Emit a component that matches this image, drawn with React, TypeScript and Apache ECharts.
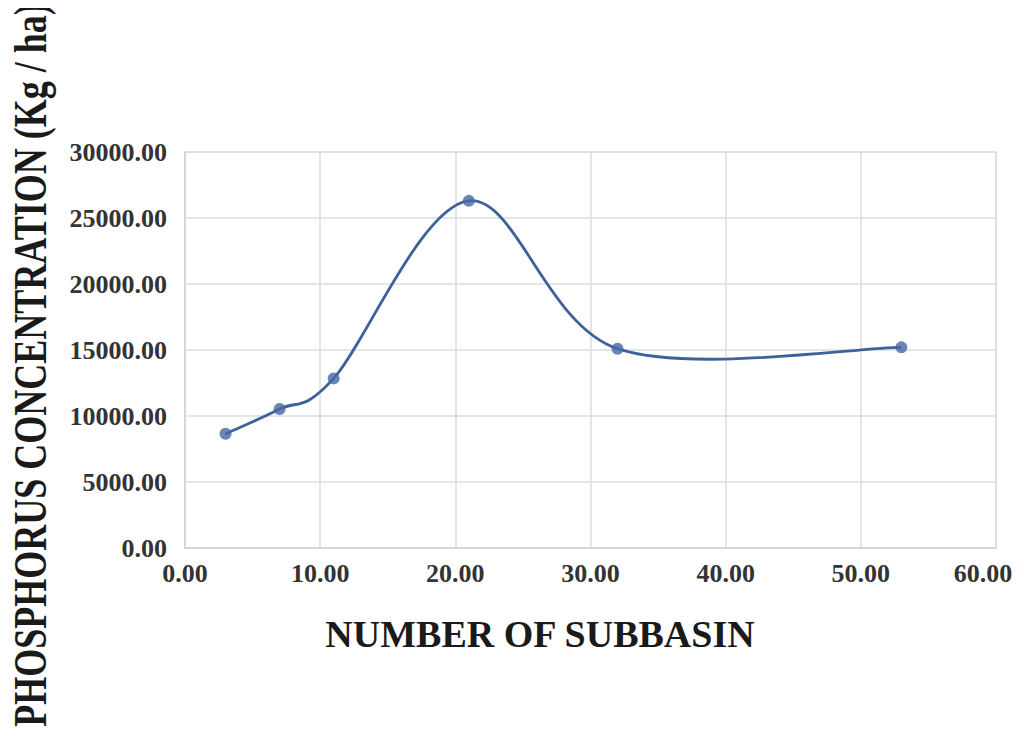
import React, { useEffect, useRef } from "react";
import * as echarts from "echarts";

const subbasins = [3, 7, 11, 21, 32, 53];
const phosphorus = [8650, 10530, 12850, 26300, 15100, 15200];
const xTicks = [0, 10, 20, 30, 40, 50, 60];
const yTicks = [0, 5000, 10000, 15000, 20000, 25000, 30000];
const xTitle = "NUMBER OF SUBBASIN";
const yTitle = "PHOSPHORUS CONCENTRATION (Kg / ha)";

const FONT = "'Liberation Serif', 'Times New Roman', serif";
const LINE = "#3d619b";

export default function App() {
  const ref = useRef<HTMLDivElement>(null);
  useEffect(() => {
    if (!ref.current) return;
    const chart = echarts.init(ref.current, undefined, { renderer: "svg" });
    const data = subbasins.map((x, i) => [x, phosphorus[i]]);
    const n = data.length;
    const xMax = xTicks[xTicks.length - 1];
    chart.setOption({
      animation: false,
      backgroundColor: "#ffffff",
      grid: { left: 185, right: 28, top: 152, bottom: 188, containLabel: false },
      xAxis: {
        type: "value",
        min: xTicks[0],
        max: xMax,
        interval: 10,
        axisLine: { show: true, lineStyle: { color: "#d0d0d0", width: 1.5 } },
        axisTick: { show: false },
        splitLine: { show: true, lineStyle: { color: "#dcdcdc", width: 1.5 } },
        axisLabel: {
          margin: 12,
          fontFamily: FONT,
          fontWeight: "bold",
          fontSize: 26,
          color: "#333333",
          formatter: (v: number) =>
            v === xMax ? `{last|${v.toFixed(2)}}` : v.toFixed(2),
          rich: {
            last: {
              fontFamily: FONT,
              fontWeight: "bold",
              fontSize: 26,
              color: "#333333",
              padding: [0, 26, 0, 0],
            },
          },
        },
      },
      yAxis: {
        type: "value",
        min: yTicks[0],
        max: yTicks[yTicks.length - 1],
        interval: 5000,
        axisLine: { show: true, lineStyle: { color: "#d0d0d0", width: 1.5 } },
        axisTick: { show: false },
        splitLine: { show: true, lineStyle: { color: "#dcdcdc", width: 1.5 } },
        axisLabel: {
          margin: 18,
          fontFamily: FONT,
          fontWeight: "bold",
          fontSize: 26,
          color: "#333333",
          formatter: (v: number) => v.toFixed(2),
        },
      },
      graphic: [
        {
          type: "line",
          shape: { x1: 185, y1: 152, x2: 996, y2: 152 },
          style: { stroke: "#dcdcdc", lineWidth: 1.5 },
          silent: true,
        },
        {
          type: "line",
          shape: { x1: 996, y1: 152, x2: 996, y2: 548 },
          style: { stroke: "#dcdcdc", lineWidth: 1.5 },
          silent: true,
        },
        {
          type: "text",
          x: 540,
          y: 634,
          style: {
            text: xTitle,
            font: `bold 38px ${FONT}`,
            fill: "#1a1a1a",
            textAlign: "center",
            textVerticalAlign: "middle",
          },
        },
        {
          type: "text",
          x: 30,
          y: 365,
          rotation: Math.PI / 2,
          scaleY: 1.3,
          style: {
            text: yTitle,
            font: `bold 36px ${FONT}`,
            fill: "#1a1a1a",
            textAlign: "center",
            textVerticalAlign: "middle",
          },
        },
      ],
      series: [
        {
          type: "custom",
          data,
          z: 2,
          silent: true,
          renderItem: (params: any, api: any) => {
            const i = params.dataIndex;
            if (i >= n - 1) return null;
            const pt = (k: number) => {
              const j = Math.max(0, Math.min(n - 1, k));
              return api.coord(data[j]);
            };
            const p0 = pt(i - 1);
            const p1 = pt(i);
            const p2 = pt(i + 1);
            const p3 = pt(i + 2);
            return {
              type: "bezierCurve",
              shape: {
                x1: p1[0],
                y1: p1[1],
                cpx1: p1[0] + (p2[0] - p0[0]) / 6,
                cpy1: p1[1] + (p2[1] - p0[1]) / 6,
                cpx2: p2[0] - (p3[0] - p1[0]) / 6,
                cpy2: p2[1] - (p3[1] - p1[1]) / 6,
                x2: p2[0],
                y2: p2[1],
              },
              style: { stroke: LINE, lineWidth: 2.8, fill: "none" },
            };
          },
        },
        {
          type: "scatter",
          data,
          z: 3,
          symbol: "circle",
          symbolSize: 12,
          itemStyle: { color: "#4668a4" },
        },
      ],
    });
    return () => chart.dispose();
  }, []);
  return <div ref={ref} style={{ width: 1024, height: 736, margin: -8 }} />;
}
